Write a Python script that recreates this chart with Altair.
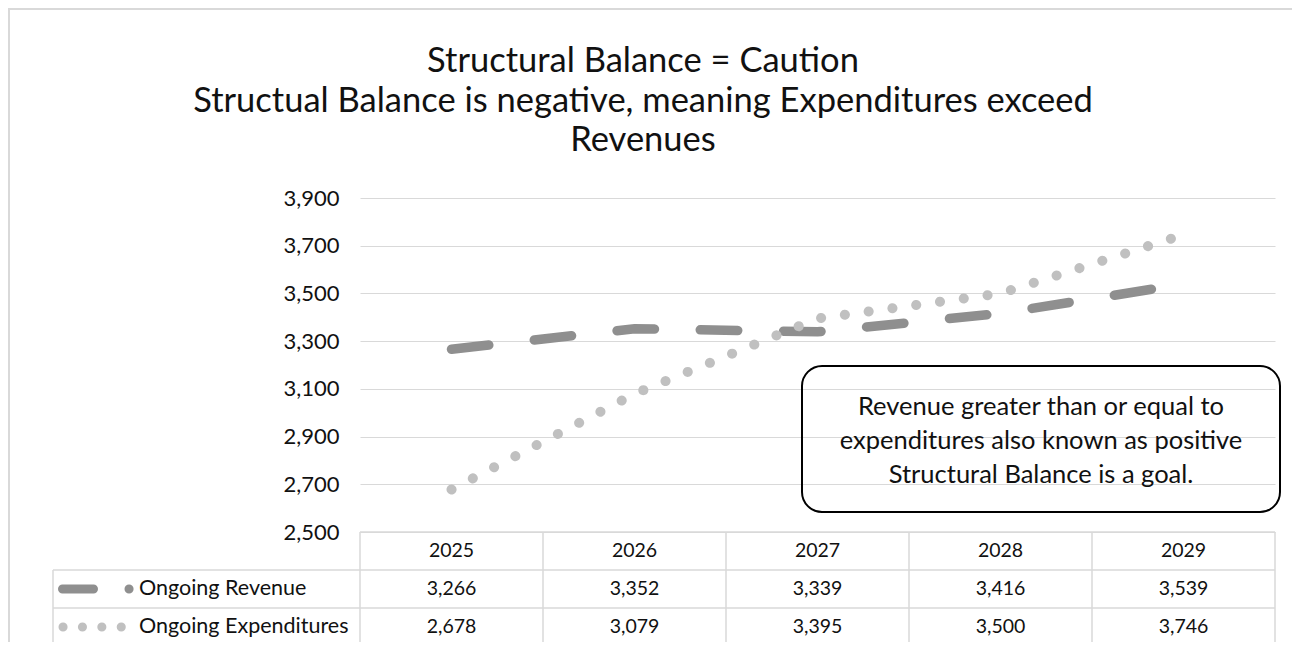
import altair as alt
import pandas as pd

# ---- data ----
years = ["2025", "2026", "2027", "2028", "2029"]
revenue = [3266, 3352, 3339, 3416, 3539]
expenditures = [2678, 3079, 3395, 3500, 3746]
y_ticks = [2500, 2700, 2900, 3100, 3300, 3500, 3700, 3900]
series_names = ["Ongoing Revenue", "Ongoing Expenditures"]
title_lines = [
    "Structural Balance = Caution",
    "Structual Balance is negative, meaning Expenditures exceed",
    "Revenues",
]
note_lines = [
    "Revenue greater than or equal to",
    "expenditures also known as positive",
    "Structural Balance is a goal.",
]

# ---- layout ----
FONT = "Lato"
W, H = 915, 334
PAD_L, PAD_T, PAD_R, PAD_B = 352, 190, 17, 110
REV_COLOR = "#8f8f8f"
EXP_COLOR = "#c0c0c0"
GRID = "#d9d9d9"
TEXT = "#111111"


def vx(px):  # page x -> view x
    return px - 8 - PAD_L


def vy(py):  # page y -> view y
    return py - 8 - PAD_T


df = pd.DataFrame({"year": years, "revenue": revenue, "expenditures": expenditures})
one = pd.DataFrame({"k": [0]})

x_enc = alt.X("year:O", scale=alt.Scale(type="point", padding=0.5, domain=years), axis=None)
y_scale = alt.Scale(domain=[2500, 3900], nice=False, zero=False)
y_axis = alt.Axis(
    values=y_ticks, format=",.0f", title=None, grid=True, gridColor=GRID, gridWidth=1,
    domain=False, ticks=False, labelPadding=21, labelFont=FONT, labelFontSize=22,
    labelColor=TEXT,
)

base = alt.Chart(df)

rev_line = base.mark_line(
    color=REV_COLOR, strokeWidth=9.5, strokeDash=[37.5, 45.8], strokeCap="round"
).encode(x=x_enc, y=alt.Y("revenue:Q", scale=y_scale, axis=y_axis))

exp_line = base.mark_line(
    color=EXP_COLOR, strokeWidth=10, strokeDash=[0.1, 23.9], strokeCap="round"
).encode(x=x_enc, y=alt.Y("expenditures:Q", scale=y_scale, axis=y_axis))

layers = []

# outer chart border (top & left)
layers.append(alt.Chart(one).mark_rule(color=GRID, strokeWidth=2).encode(
    x=alt.value(vx(8)), x2=alt.value(vx(1300)), y=alt.value(vy(9)), y2=alt.value(vy(9))))
layers.append(alt.Chart(one).mark_rule(color=GRID, strokeWidth=2).encode(
    x=alt.value(vx(9)), x2=alt.value(vx(9)), y=alt.value(vy(8)), y2=alt.value(vy(650))))

# table grid
row_lines = [532, 570, 608, 646]
for i, ry in enumerate(row_lines):
    x_left = 360 if i == 0 else 53
    layers.append(alt.Chart(one).mark_rule(color=GRID, strokeWidth=1.5).encode(
        x=alt.value(vx(x_left)), x2=alt.value(vx(1275)), y=alt.value(vy(ry)), y2=alt.value(vy(ry))))
layers.append(alt.Chart(one).mark_rule(color=GRID, strokeWidth=1.5).encode(
    x=alt.value(vx(53)), x2=alt.value(vx(53)), y=alt.value(vy(570)), y2=alt.value(vy(646))))
col_w = W / len(years)
for i in range(len(years) + 1):
    layers.append(alt.Chart(one).mark_rule(color=GRID, strokeWidth=1.5).encode(
        x=alt.value(i * col_w), x2=alt.value(i * col_w), y=alt.value(vy(532)), y2=alt.value(vy(646))))

layers += [rev_line, exp_line]

# table text
txt = dict(font=FONT, fontSize=19.5, color=TEXT, baseline="middle")
layers.append(base.mark_text(**txt).encode(x=x_enc, y=alt.value(vy(551)), text="year:N"))
layers.append(base.mark_text(**txt).encode(
    x=x_enc, y=alt.value(vy(589)), text=alt.Text("revenue:Q", format=",")))
layers.append(base.mark_text(**txt).encode(
    x=x_enc, y=alt.value(vy(627)), text=alt.Text("expenditures:Q", format=",")))

# legend glyphs in table
layers.append(alt.Chart(one).mark_rule(
    color=REV_COLOR, strokeWidth=9, strokeCap="round", strokeDash=[31, 35.5, 0.1, 200]
).encode(x=alt.value(vx(62.5)), x2=alt.value(vx(130)), y=alt.value(vy(589)), y2=alt.value(vy(589))))
layers.append(alt.Chart(one).mark_rule(
    color=EXP_COLOR, strokeWidth=9, strokeCap="round", strokeDash=[0.1, 19.3]
).encode(x=alt.value(vx(63)), x2=alt.value(vx(121.5)), y=alt.value(vy(627)), y2=alt.value(vy(627))))
name_txt = dict(font=FONT, fontSize=21.5, color=TEXT, baseline="middle")
for name, ry in zip(series_names, [589, 627]):
    layers.append(alt.Chart(one).mark_text(align="left", **name_txt).encode(
        x=alt.value(vx(139)), y=alt.value(vy(ry)), text=alt.value(name)))

# title
for line, ty in zip(title_lines, [62, 102, 141]):
    layers.append(alt.Chart(one).mark_text(
        font=FONT, fontSize=34.5, color=TEXT, baseline="middle", align="center"
    ).encode(x=alt.value(vx(643)), y=alt.value(vy(ty)), text=alt.value(line)))

# annotation box
layers.append(alt.Chart(one).mark_rect(
    cornerRadius=20, fillOpacity=0, stroke="#000000", strokeWidth=2
).encode(x=alt.value(vx(802)), x2=alt.value(vx(1280)), y=alt.value(vy(366)), y2=alt.value(vy(512))))
for line, ty in zip(note_lines, [407, 441, 475]):
    layers.append(alt.Chart(one).mark_text(
        font=FONT, fontSize=25.5, color=TEXT, baseline="middle", align="center"
    ).encode(x=alt.value(vx(1041)), y=alt.value(vy(ty)), text=alt.value(line)))

chart = alt.layer(*layers).properties(
    width=W, height=H,
    padding={"left": PAD_L, "top": PAD_T, "right": PAD_R, "bottom": PAD_B},
    autosize=alt.AutoSizeParams(type="none"),
    background="white",
).configure_view(stroke="transparent")

chart.save("out.html", embed_options={"renderer": "svg", "actions": False})
